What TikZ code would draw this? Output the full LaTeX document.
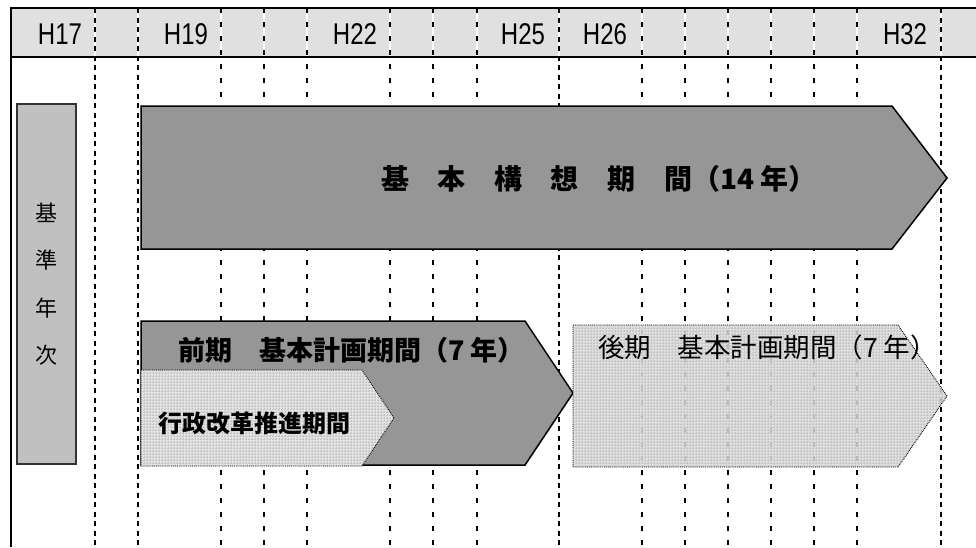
\documentclass[tikz,border=0pt]{standalone}
\usepackage{fontspec}
\setmainfont{Noto Sans CJK JP}
\newfontfamily\hdrfont[FakeStretch=0.8]{Liberation Sans}
\usetikzlibrary{patterns}
\definecolor{hdrgray}{HTML}{E0E0E0}
\definecolor{boxgray}{HTML}{C0C0C0}
\definecolor{darkgray}{HTML}{969696}
\definecolor{lightfill}{HTML}{E2E2E2}
\definecolor{lightfillb}{HTML}{D8D8D8}
\definecolor{meshgray}{HTML}{C4C4C4}
\tikzset{
  densedash/.style={line width=1.7pt, dash pattern=on 5pt off 4.5pt},
  heavydash/.style={line width=2.3pt, dash pattern=on 5pt off 4.5pt},
  sparsedash/.style={line width=1.6pt, dash pattern=on 5pt off 9pt},
  frameline/.style={line width=2pt, black},
  hdrlabel/.style={inner sep=0pt, font={\hdrfont\fontsize{30}{30}\selectfont}},
  darkarrow/.style={fill=darkgray, draw=black, line width=1.5pt, line join=miter},
  lightarrow/.style={preaction={fill=#1}, pattern=grid, pattern color=meshgray, draw=black, line width=0.9pt, densely dotted},
  basebox/.style={fill=boxgray, draw=black!80, line width=1.5pt, minimum width=59pt, minimum height=360pt, inner sep=0pt, align=center, font={\fontsize{22}{47.3}\selectfont}},
  boldtext/.style={inner sep=0pt, anchor=west, font={\bfseries\fontsize{#1}{#1}\selectfont}},
  plaintext/.style={inner sep=0pt, anchor=west, font={\fontsize{#1}{#1}\selectfont}},
}
\begin{document}
\begin{tikzpicture}[x=1pt,y=-1pt]
\useasboundingbox (0,0) rectangle (976,547);
\fill[white] (0,0) rectangle (976,547);
% header band
\fill[hdrgray] (11,8) rectangle (976,57);
% white strips behind dashes in header
\foreach \x in {95,138,221,264,307,390,433,477,559,642,685,728,771,814,857,941}
  {\draw[white, line width=1.6pt] (\x,9) -- (\x,56);}
% vertical dashed grid
\draw[heavydash] (95,8) -- (95,547);
\foreach \x in {138,559,941} {\draw[densedash] (\x,8) -- (\x,547);}
\foreach \x in {221,264,307,390,433,477,642,685,728,771,814,857} {\draw[sparsedash] (\x,8) -- (\x,547);}
% frame
\draw[frameline] (11,8) -- (976,8);
\draw[frameline] (11,57) -- (976,57);
\draw[frameline] (11,7) -- (11,547);
% header labels
\node[hdrlabel] (h17) at (60,34) {H17};
\node[hdrlabel] (h19) at (186,34) {H19};
\node[hdrlabel] (h22) at (355,34) {H22};
\node[hdrlabel] (h25) at (523,34) {H25};
\node[hdrlabel] (h26) at (605,34) {H26};
\node[hdrlabel] (h32) at (905,34) {H32};
% base year box
\node[basebox] (base) at (46.5,284) {基\\準\\年\\次};
% arrows
\path[darkarrow] (141,106) -- (892,106) -- (947,178) -- (892,249) -- (141,249) -- cycle;
\path[darkarrow] (141,321) -- (525,321) -- (573,393) -- (525,465) -- (141,465) -- cycle;
\path[lightarrow=lightfill] (141,370) -- (362,370) -- (394,418) -- (362,466) -- (141,466) -- cycle;
\begin{scope}[fill opacity=0.85]
\path[lightarrow=lightfillb] (573,325) -- (898,325) -- (947,396) -- (898,467) -- (573,467) -- cycle;
\end{scope}
% texts
\node[boldtext=28] (title) at (381,179) {基\hspace{28.6pt}本\hspace{28.6pt}構\hspace{28.6pt}想\hspace{28.6pt}期\hspace{28.6pt}間（14 年）};
\node[boldtext=27] (zenki) at (178,350) {前期　基本計画期間（7 年）};
\node[boldtext=24] (gyosei) at (158,423) {行政改革推進期間};
\node[plaintext=26.5] (koki) at (598,347) {後期　基本計画期間（7 年）};
\end{tikzpicture}
\end{document}
